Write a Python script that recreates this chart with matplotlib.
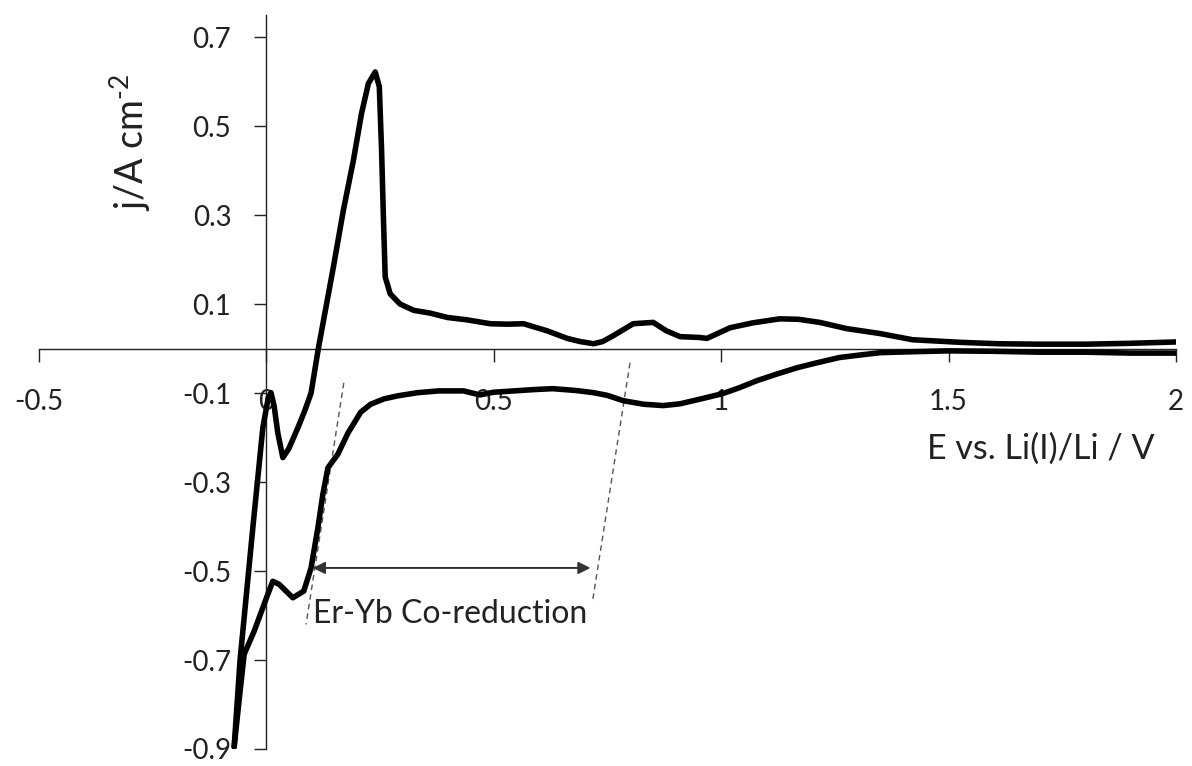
import matplotlib
matplotlib.use("Agg")
import matplotlib.pyplot as plt

plt.rcParams['font.family'] = ['Lato', 'DejaVu Sans']
plt.rcParams['mathtext.fontset'] = 'custom'
plt.rcParams['mathtext.rm'] = 'Lato'
plt.rcParams['mathtext.it'] = 'Lato:italic'

# Cathodic sweep: 2.0 V down to the switching potential
E_cath = [2.00, 1.90, 1.80, 1.70, 1.60, 1.50, 1.42, 1.35, 1.30, 1.26, 1.21,
          1.167, 1.12, 1.079, 1.04, 1.004, 0.96, 0.91, 0.873, 0.83, 0.785,
          0.75, 0.72, 0.68, 0.63, 0.59, 0.545, 0.50, 0.47, 0.434, 0.38,
          0.333, 0.29, 0.259, 0.23, 0.208, 0.18, 0.158, 0.136, 0.125, 0.114,
          0.099, 0.083, 0.059, 0.029, 0.015, 0.004, -0.026, -0.048, -0.058,
          -0.070]
j_cath = [-0.010, -0.010, -0.008, -0.008, -0.006, -0.005, -0.007, -0.009,
          -0.015, -0.020, -0.032, -0.043, -0.058, -0.072, -0.088, -0.101,
          -0.112, -0.124, -0.128, -0.125, -0.117, -0.105, -0.099, -0.094,
          -0.090, -0.092, -0.095, -0.098, -0.104, -0.095, -0.095, -0.099,
          -0.106, -0.113, -0.125, -0.143, -0.190, -0.237, -0.268, -0.327,
          -0.403, -0.493, -0.545, -0.560, -0.530, -0.523, -0.552, -0.635,
          -0.687, -0.780, -0.895]

# Anodic sweep: switching potential back up to 2.0 V
E_anod = [-0.070, -0.057, -0.029, -0.007, 0.005, 0.011, 0.018, 0.026, 0.037,
          0.050, 0.070, 0.085, 0.099, 0.115, 0.148, 0.170, 0.192, 0.210,
          0.225, 0.240, 0.249, 0.254, 0.258, 0.262, 0.273, 0.295, 0.312,
          0.325, 0.360, 0.399, 0.440, 0.493, 0.530, 0.566, 0.618, 0.662,
          0.690, 0.720, 0.740, 0.763, 0.807, 0.851, 0.880, 0.910, 0.954,
          0.969, 1.020, 1.070, 1.129, 1.170, 1.217, 1.276, 1.349, 1.421,
          1.530, 1.610, 1.700, 1.800, 1.900, 2.000]
j_anod = [-0.895, -0.700, -0.403, -0.178, -0.110, -0.099, -0.130, -0.190,
          -0.245, -0.225, -0.178, -0.140, -0.100, 0.000, 0.183, 0.311, 0.423,
          0.529, 0.596, 0.622, 0.589, 0.446, 0.296, 0.161, 0.123, 0.100,
          0.092, 0.086, 0.080, 0.070, 0.065, 0.056, 0.055, 0.056, 0.040,
          0.023, 0.016, 0.011, 0.016, 0.029, 0.056, 0.059, 0.040, 0.027,
          0.025, 0.023, 0.047, 0.058, 0.067, 0.066, 0.059, 0.045, 0.034,
          0.020, 0.014, 0.011, 0.010, 0.010, 0.012, 0.015]

x_ticks = [-0.5, 0, 0.5, 1, 1.5, 2]
x_tick_labels = ["-0.5", "0", "0.5", "1", "1.5", "2"]
y_ticks = [-0.9, -0.7, -0.5, -0.3, -0.1, 0.1, 0.3, 0.5, 0.7]
y_tick_labels = ["-0.9", "-0.7", "-0.5", "-0.3", "-0.1", "0.1", "0.3", "0.5", "0.7"]

# Potential window of the co-reduction (guide lines and arrow)
guide_left = [(0.171, -0.077), (0.088, -0.62)]
guide_right = [(0.800, -0.032), (0.717, -0.572)]
arrow_span = (0.103, 0.713)
arrow_j = -0.493

fig = plt.figure(figsize=(11.92, 7.66), dpi=100)
ax = fig.add_axes([0.0323, 0.0222, 0.9543, 0.9582])
ax.set_xlim(-0.5, 2.0)
ax.set_ylim(-0.9, 0.75)

ax.plot(E_cath, j_cath, color='black', lw=4.0, solid_joinstyle='round',
        solid_capstyle='round', zorder=3)
ax.plot(E_anod, j_anod, color='black', lw=4.0, solid_joinstyle='round',
        solid_capstyle='round', zorder=3)

for seg in (guide_left, guide_right):
    ax.plot([seg[0][0], seg[1][0]], [seg[0][1], seg[1][1]], color='#555555',
            lw=1.0, ls=(0, (4, 3)), zorder=2)

ax.annotate('', xy=(arrow_span[0], arrow_j), xytext=(arrow_span[1], arrow_j),
            arrowprops=dict(arrowstyle='<|-|>', color='#333333', lw=1.4,
                            mutation_scale=18, shrinkA=0, shrinkB=0))
ax.text(0.405, -0.597, 'Er-Yb Co-reduction', fontsize=23, color='#222222',
        ha='center', va='center')

ax.spines['left'].set_position(('data', 0))
ax.spines['bottom'].set_position(('data', 0))
ax.spines['top'].set_visible(False)
ax.spines['right'].set_visible(False)
for s in ('left', 'bottom'):
    ax.spines[s].set_linewidth(1.0)
    ax.spines[s].set_color('#222222')

ax.set_xticks(x_ticks)
ax.set_xticklabels(x_tick_labels)
ax.set_yticks(y_ticks)
ax.set_yticklabels(y_tick_labels)
ax.tick_params(axis='x', direction='out', length=9, width=1, pad=20,
               labelsize=20, colors='#222222')
ax.tick_params(axis='y', direction='out', length=9, width=1, pad=16,
               labelsize=20, colors='#222222')

ax.text(1.703, -0.225, 'E vs. Li(I)/Li / V', fontsize=24.5, color='#222222',
        ha='center', va='center')
ax.text(-0.299, 0.464, r'j/A cm$^{\text{-2}}$', fontsize=27, color='#222222',
        ha='center', va='center', rotation=90)

fig.savefig('out.png', dpi=100)
